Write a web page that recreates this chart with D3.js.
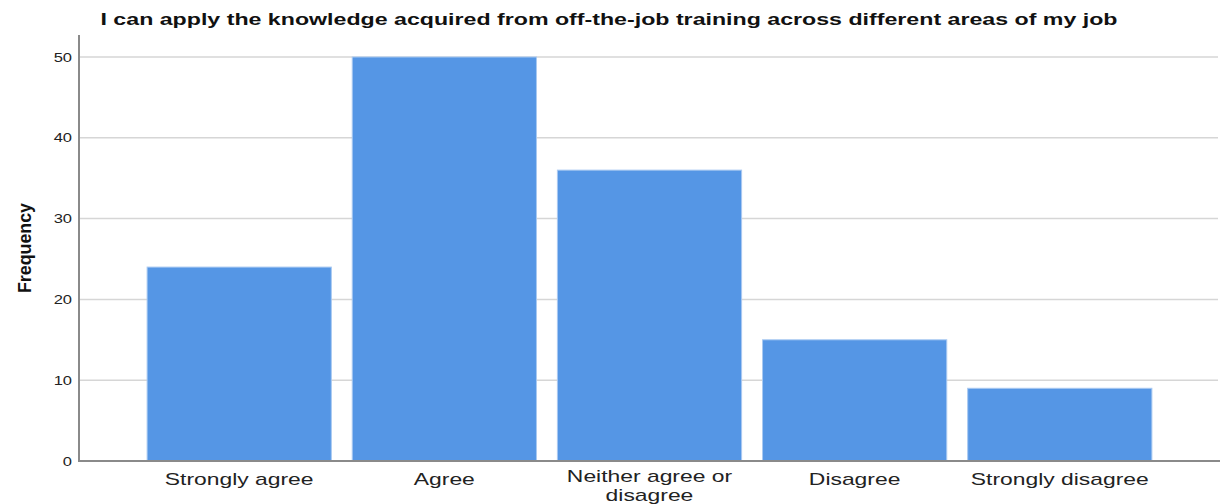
<!DOCTYPE html>
<html><head><meta charset="utf-8">
<script src="https://cdn.jsdelivr.net/npm/d3@7"></script>
<style>body{margin:0;background:#fff}svg{display:block}</style>
</head><body>
<svg id="c" width="1221" height="504"></svg>
<script>
const categories = ["Strongly agree","Agree","Neither agree or disagree","Disagree","Strongly disagree"];
const labelLines = [["Strongly agree"],["Agree"],["Neither agree or","disagree"],["Disagree"],["Strongly disagree"]];
const values = [24,50,36,15,9];
const yTicks = [0,10,20,30,40,50];
const title = "I can apply the knowledge acquired from off-the-job training across different areas of my job";
const yLabel = "Frequency";

(function(){
const svg = d3.select("#c");
const mLeft = 79, mRight = 1220, mTop = 35, mBottom = 461;
const FONT = "Liberation Sans, Arial, sans-serif";
const x = d3.scaleBand().domain(categories).range([mLeft, mRight]).paddingInner(0.102).paddingOuter(0.332);
const y = d3.scaleLinear().domain([0,50]).range([mBottom, 57]);

function fit(sel, stretchX){
  sel.each(function(){
    const w = this.getComputedTextLength();
    d3.select(this).attr("textLength", w*stretchX).attr("lengthAdjust","spacingAndGlyphs");
  });
}

// grid
svg.append("g").selectAll("line").data(yTicks.filter(d=>d>0)).join("line")
  .attr("x1", mLeft).attr("x2", mRight-2).attr("y1", d=>y(d)).attr("y2", d=>y(d))
  .attr("stroke", "#d6d6d6").attr("stroke-width", 1.5);

// bars
svg.append("g").selectAll("rect").data(values).join("rect")
  .attr("x", (d,i)=>x(categories[i])).attr("width", x.bandwidth())
  .attr("y", d=>y(d)).attr("height", d=>mBottom - y(d))
  .attr("fill", "#5596e5").attr("stroke", "#a9c9f1").attr("stroke-width", 1);

// y axis
const ya = svg.append("g").attr("transform", `translate(${mLeft},0)`)
  .call(d3.axisLeft(y).tickValues(yTicks).tickSize(0).tickPadding(7));
ya.select(".domain").remove();
ya.selectAll("text").attr("font-family",FONT).attr("font-size", 13).attr("fill","#222");
fit(ya.selectAll("text"), 1.27);
svg.append("line").attr("x1", mLeft).attr("x2", mLeft).attr("y1", mTop).attr("y2", mBottom+1)
  .attr("stroke", "#8a8a8a").attr("stroke-width", 2);

// x axis
svg.append("line").attr("x1", mLeft).attr("x2", mRight).attr("y1", mBottom).attr("y2", mBottom)
  .attr("stroke", "#8a8a8a").attr("stroke-width", 2);
const xg = svg.append("g");
categories.forEach((d,i)=>{
  const lines = labelLines[i];
  lines.forEach((ln,j)=>{
    const yy = lines.length > 1 ? 482 + j*19 : 485;
    xg.append("text").attr("x", x(d)+x.bandwidth()/2).attr("y", yy)
      .attr("text-anchor","middle").attr("font-family",FONT)
      .attr("font-size", 17).attr("fill","#222").text(ln);
  });
});
fit(xg.selectAll("text"), 1.345);

// title
svg.append("text").attr("x", 609).attr("y", 25).attr("text-anchor","middle")
  .attr("font-family",FONT).attr("font-weight","bold")
  .attr("font-size", 17).attr("fill","#111")
  .attr("textLength", 1017).attr("lengthAdjust","spacingAndGlyphs").text(title);

// y label
svg.append("text").attr("transform","translate(31,248) rotate(-90)").attr("text-anchor","middle")
  .attr("font-family",FONT).attr("font-weight","bold")
  .attr("font-size", 19).attr("fill","#111").attr("textLength", 90).attr("lengthAdjust","spacingAndGlyphs").text(yLabel);
})();
</script>
</body></html>
